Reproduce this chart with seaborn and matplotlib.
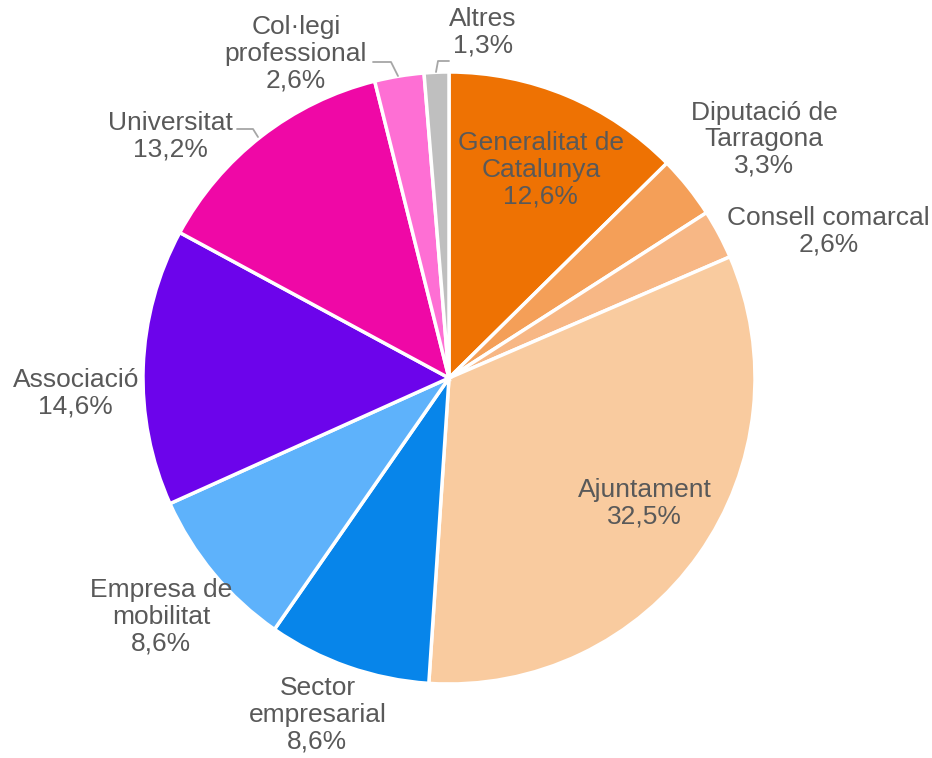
import numpy as np
import matplotlib
matplotlib.use("Agg")
import matplotlib.pyplot as plt
import seaborn as sns

#%% data

categories = ["Generalitat de\nCatalunya", "Diputació de\nTarragona", "Consell comarcal",
              "Ajuntament", "Sector\nempresarial", "Empresa de\nmobilitat",
              "Associació", "Universitat", "Col·legi\nprofessional", "Altres"]
values = [12.6, 3.3, 2.6, 32.5, 8.6, 8.6, 14.6, 13.2, 2.6, 1.3]
colors = ["#EE7203", "#F49F58", "#F7B785", "#F9CB9F", "#0785EA",
          "#5EB2FB", "#6C04EB", "#EF08A6", "#FE6FD4", "#BFBFBF"]

# label centres (axes data units, pie radius = 1)
label_xy = [(0.30, 0.68), (1.03, 0.78), (1.24, 0.48), (0.64, -0.41), (-0.43, -1.10),
            (-0.94, -0.78), (-1.22, -0.05), (-0.91, 0.79), (-0.50, 1.06), (0.11, 1.13)]

#%% plot

sns.set_theme(style="white")
plt.rcParams["font.family"] = ["Liberation Sans", "DejaVu Sans"]

fig = plt.figure(figsize=(9.32, 7.58), dpi=100)
ax = fig.add_axes([0, 0, 1, 1])

wedges, _ = ax.pie(values, colors=colors, startangle=90, counterclock=False,
                   radius=1, wedgeprops=dict(edgecolor="white", linewidth=2.5))

ax.set_xlim(-449 / 306, (932 - 449) / 306)
ax.set_ylim(-(758 - 378) / 306, 378 / 306)
ax.set_aspect("equal")
ax.axis("off")

for lab, val, (x, y) in zip(categories, values, label_xy):
    txt = lab + "\n" + f"{val:.1f}".replace(".", ",") + "%"
    ax.text(x, y, txt, ha="center", va="center", fontsize=19, color="#595959",
            linespacing=1.13)

# leader lines (Universitat, Col·legi professional, Altres)
def px(x, y):
    return ((x - 449) / 306, (378 - y) / 306)

leaders = [[(237, 129), (253, 129), (258, 137)],
           [(373, 62), (391, 62), (398, 76)],
           [(449, 61), (438, 61), (436, 72)]]
for pts in leaders:
    xy = np.array([px(*p) for p in pts])
    ax.plot(xy[:, 0], xy[:, 1], color="#A6A6A6", lw=1.3)

fig.savefig("out.png", dpi=100)
